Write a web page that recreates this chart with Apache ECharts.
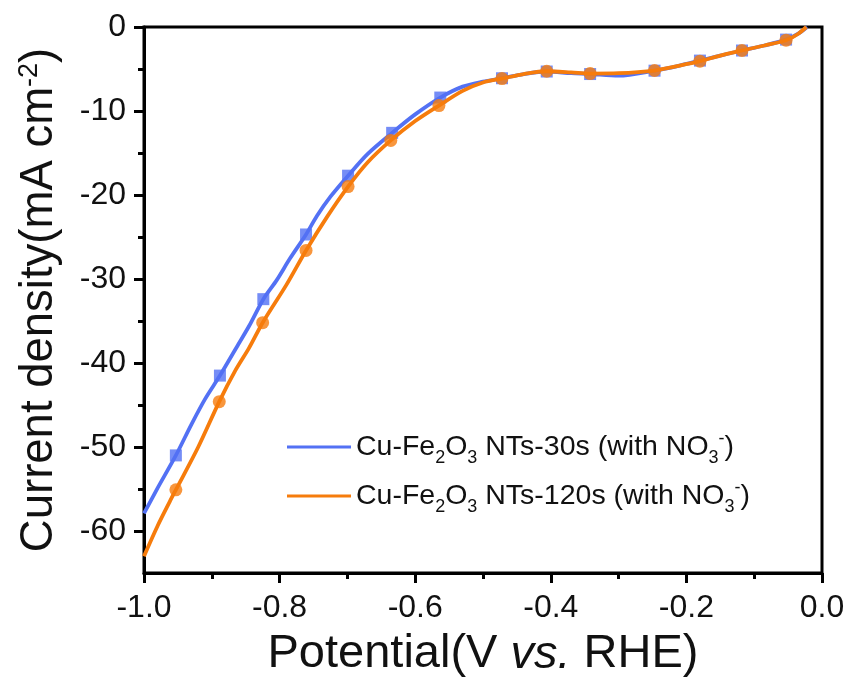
<!DOCTYPE html>
<html>
<head>
<meta charset="utf-8">
<script src="https://cdn.jsdelivr.net/npm/echarts@6/dist/echarts.min.js"></script>
<style>
html,body{margin:0;padding:0;background:#fff;}
#chart{width:852px;height:686px;}
</style>
</head>
<body>
<div id="chart"></div>
<script>
// ---- Data ----
const seriesNames = ['Cu-Fe2O3 NTs-30s (with NO3-)', 'Cu-Fe2O3 NTs-120s (with NO3-)'];

const potential30 = [-1.0, -0.98, -0.953, -0.93, -0.91, -0.888, -0.861, -0.845, -0.824, -0.804, -0.785, -0.761, -0.745, -0.725, -0.699, -0.67, -0.634, -0.60, -0.563, -0.53, -0.50, -0.472, -0.44, -0.406, -0.37, -0.342, -0.30, -0.247, -0.21, -0.18, -0.15, -0.118, -0.085, -0.053, -0.035, -0.022];
const current30   = [-57.9, -54.9, -51.0, -47.3, -44.3, -41.5, -37.8, -35.6, -32.4, -30.1, -27.6, -24.7, -22.5, -20.2, -17.7, -15.1, -12.6, -10.4, -8.4, -7.1, -6.5, -6.1, -5.6, -5.3, -5.5, -5.6, -5.8, -5.2, -4.6, -4.0, -3.4, -2.8, -2.2, -1.5, -0.8, 0.0];

const potential120 = [-1.0, -0.98, -0.962, -0.953, -0.92, -0.889, -0.866, -0.845, -0.825, -0.79, -0.761, -0.73, -0.699, -0.67, -0.636, -0.60, -0.565, -0.53, -0.50, -0.472, -0.44, -0.406, -0.37, -0.342, -0.30, -0.247, -0.21, -0.18, -0.15, -0.118, -0.085, -0.053, -0.035, -0.023];
const current120   = [-63.0, -59.4, -56.5, -55.1, -50.0, -44.6, -41.0, -38.2, -35.2, -30.7, -26.6, -22.6, -19.0, -16.1, -13.5, -11.2, -9.35, -7.6, -6.6, -6.14, -5.6, -5.27, -5.4, -5.54, -5.5, -5.18, -4.6, -4.07, -3.4, -2.80, -2.2, -1.57, -0.8, 0.0];

const markerX30 = [-0.953, -0.888, -0.824, -0.761, -0.699, -0.634, -0.563, -0.472, -0.406, -0.342, -0.247, -0.180, -0.118, -0.053];
const markerY30 = [-51.0, -41.5, -32.4, -24.7, -17.7, -12.6, -8.4, -6.1, -5.3, -5.6, -5.2, -4.0, -2.8, -1.5];

const markerX120 = [-0.953, -0.889, -0.825, -0.761, -0.699, -0.636, -0.565, -0.472, -0.406, -0.342, -0.247, -0.180, -0.118, -0.053];
const markerY120 = [-55.1, -44.6, -35.2, -26.6, -19.0, -13.5, -9.35, -6.14, -5.27, -5.54, -5.18, -4.07, -2.80, -1.57];

const yLabelValues = [0, -10, -20, -30, -40, -50, -60];
const yMinorValues = [-5, -15, -25, -35, -45, -55];

// ---- Build ----
const zip = (xs, ys) => xs.map((x, i) => [x, ys[i]]);
const FONT = "'Liberation Sans', Arial, sans-serif";
const BLUE = '#5371f4';
const ORANGE = '#f67c0c';

const legendRich = {
  n: {fontSize: 28.5, fontFamily: FONT, color: '#111', lineHeight: 34, verticalAlign: 'middle'},
  sub: {fontSize: 18, fontFamily: FONT, color: '#111', verticalAlign: 'bottom', lineHeight: 18, padding: [0, 0, -3, 0]},
  sup: {fontSize: 18, fontFamily: FONT, color: '#111', verticalAlign: 'top', lineHeight: 18}
};

function legendFmt(name) {
  const tag = name.indexOf('120s') >= 0 ? '120s' : '30s';
  return '{n|Cu-Fe}{sub|2}{n|O}{sub|3}{n| NTs-' + tag + ' (with NO}{sub|3}{sup|-}{n|)}';
}

const chart = echarts.init(document.getElementById('chart'), null, {renderer: 'canvas'});

const option = {
  backgroundColor: '#ffffff',
  animation: false,
  grid: {left: 144, right: 30, top: 27, bottom: 113, show: true, borderColor: '#000', borderWidth: 3, backgroundColor: 'transparent'},
  legend: {
    data: seriesNames,
    left: 282, top: 425,
    orient: 'vertical',
    icon: 'rect',
    itemWidth: 64, itemHeight: 3, itemGap: 12,
    formatter: legendFmt,
    textStyle: {rich: legendRich, padding: [0, 0, 0, 0]}
  },
  xAxis: {
    type: 'value', min: -1.0, max: 0.0, interval: 0.2,
    name: 'Potential(V {i|vs.} RHE)',
    nameLocation: 'middle', nameGap: 58,
    nameTextStyle: {fontSize: 47, fontFamily: FONT, color: '#111',
      rich: {i: {fontSize: 47, fontFamily: FONT, fontStyle: 'italic', color: '#111'}}},
    axisLine: {show: true, onZero: false, lineStyle: {color: '#000', width: 3}},
    axisTick: {show: true, inside: false, length: 10, lineStyle: {color: '#000', width: 3}},
    minorTick: {show: true, splitNumber: 2, length: 6, lineStyle: {color: '#000', width: 3}},
    axisLabel: {fontSize: 32, fontFamily: FONT, color: '#111', margin: 19,
      formatter: v => v.toFixed(1)},
    splitLine: {show: false}
  },
  yAxis: [{
    type: 'value', min: -65, max: 0,
    name: 'Current density(mA cm{sup|-2})',
    nameLocation: 'middle', nameGap: 82, nameRotate: 90,
    nameTextStyle: {fontSize: 45.5, fontFamily: FONT, color: '#111',
      rich: {sup: {fontSize: 27, fontFamily: FONT, color: '#111', verticalAlign: 'top', padding: [0, 0, 10, 0]}}},
    axisLine: {show: true, onZero: false, lineStyle: {color: '#000', width: 3}},
    axisTick: {show: true, inside: false, length: 10, customValues: yLabelValues, lineStyle: {color: '#000', width: 3}},
    axisLabel: {fontSize: 32, fontFamily: FONT, color: '#111', margin: 18, customValues: yLabelValues,
      formatter: v => String(Math.round(v))},
    splitLine: {show: false}
  }, {
    type: 'value', min: -65, max: 0, position: 'left',
    axisLine: {show: false, onZero: false},
    axisTick: {show: true, inside: false, length: 6, customValues: yMinorValues, lineStyle: {color: '#000', width: 3}},
    axisLabel: {show: false},
    splitLine: {show: false}
  }],
  series: [
    {name: seriesNames[0], type: 'line', data: zip(potential30, current30), smooth: 0.3,
      symbol: 'none', lineStyle: {color: BLUE, width: 3.8}, itemStyle: {color: BLUE}, z: 2},
    {name: 'm30', type: 'scatter', data: zip(markerX30, markerY30), symbol: 'rect', symbolSize: 12,
      itemStyle: {color: BLUE}, z: 3},
    {name: seriesNames[1], type: 'line', data: zip(potential120, current120), smooth: 0.3,
      symbol: 'none', lineStyle: {color: ORANGE, width: 3.8}, itemStyle: {color: ORANGE}, z: 4},
    {name: 'm120', type: 'scatter', data: zip(markerX120, markerY120), symbol: 'circle', symbolSize: 13,
      itemStyle: {color: ORANGE}, z: 5}
  ]
};
chart.setOption(option);
</script>
</body>
</html>
